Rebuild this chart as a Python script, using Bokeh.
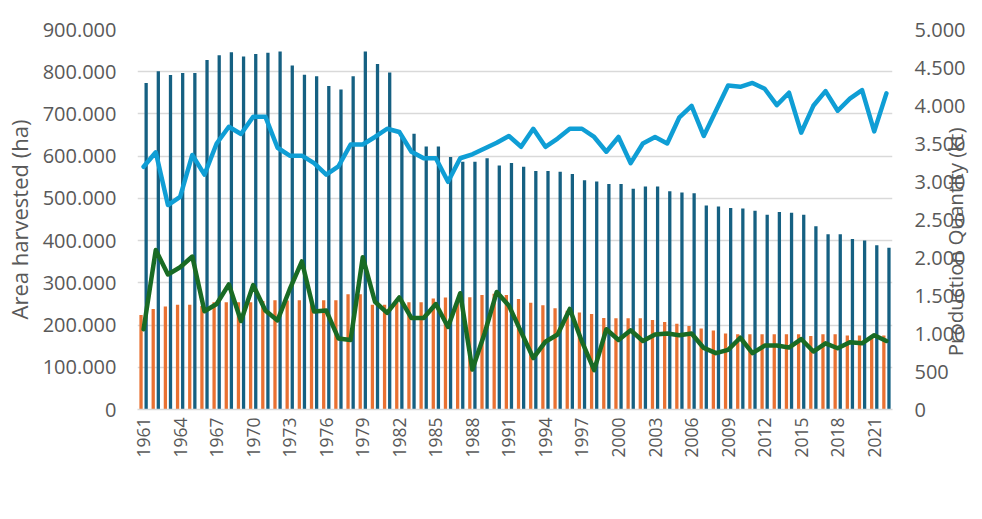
import math
from bokeh.plotting import figure
from bokeh.models import (ColumnDataSource, Range1d, LinearAxis, FixedTicker,
                          Legend, LegendItem)
from bokeh.transform import dodge
from bokeh.embed import file_html
from bokeh.resources import INLINE

years = list(range(1961, 2023))

# Area harvested (thousand ha)
portugal_area_k = [224, 238, 244, 248, 248, 245, 254, 254, 254, 254,
                   257, 259, 258, 259, 257, 259, 259, 273, 273, 248,
                   248, 254, 254, 254, 263, 265, 261, 266, 271, 274,
                   271, 262, 253, 247, 240, 234, 230, 226, 217, 216,
                   216, 216, 212, 207, 203, 198, 192, 187, 180, 178,
                   178, 178, 178, 178, 178, 174, 178, 178, 175, 175,
                   176, 175]
turkiye_area_k = [773, 801, 792, 797, 797, 828, 839, 846, 836, 842,
                  845, 848, 815, 793, 789, 766, 758, 789, 848, 818,
                  798, 645, 653, 623, 623, 598, 587, 587, 595, 578,
                  584, 575, 565, 565, 563, 558, 543, 540, 534, 534,
                  523, 528, 528, 517, 514, 512, 483, 481, 477, 476,
                  471, 461, 468, 466, 461, 434, 415, 415, 404, 400,
                  389, 383]
# Production quantity (kt)
portugal_prod = [1056, 2099, 1776, 1871, 2013, 1293, 1388, 1647, 1164, 1638,
                 1302, 1172, 1582, 1948, 1289, 1302, 935, 914, 2004, 1418,
                 1272, 1474, 1203, 1203, 1388, 1086, 1530, 526, 1000, 1547,
                 1366, 1022, 677, 892, 987, 1323, 892, 517, 1056, 914,
                 1043, 901, 987, 1000, 978, 1000, 810, 741, 784, 944,
                 741, 841, 841, 815, 927, 763, 871, 806, 884, 871,
                 978, 901]
turkiye_prod = [3194, 3384, 2690, 2797, 3349, 3091, 3500, 3720, 3625, 3853,
                3853, 3444, 3340, 3340, 3241, 3091, 3198, 3487, 3487, 3586,
                3694, 3651, 3392, 3306, 3306, 2996, 3306, 3358, 3435, 3509,
                3599, 3457, 3694, 3457, 3565, 3694, 3694, 3586, 3392, 3586,
                3241, 3500, 3586, 3500, 3845, 3996, 3600, 3931, 4263, 4246,
                4297, 4220, 4004, 4168, 3642, 3996, 4190, 3931, 4091, 4203,
                3659, 4159]

x_tick_years = list(range(1961, 2022, 3))
left_ticks = list(range(0, 901, 100))
right_ticks = list(range(0, 5001, 500))

C_PT_BAR = "#E97132"
C_TR_BAR = "#156082"
C_PT_LINE = "#196B24"
C_TR_LINE = "#0F9ED5"
TXT = "#595959"
GRID = "#D9D9D9"
FONT = "Open Sans"

src = ColumnDataSource(dict(year=years, pt_area=portugal_area_k, tr_area=turkiye_area_k,
                            pt_prod=portugal_prod, tr_prod=turkiye_prod))

p = figure(frame_width=755, frame_height=380, output_backend="svg", toolbar_location=None,
           x_range=Range1d(1960.5, 2022.5), y_range=Range1d(0, 900),
           min_border_left=128, min_border_right=83, min_border_top=29,
           min_border_bottom=60)
p.styles = {"outline": "1px solid #D9D9D9"}
p.outline_line_color = None
p.extra_y_ranges = {"prod": Range1d(0, 5000)}

r_pt_bar = p.vbar(x=dodge("year", -0.21), top="pt_area", width=0.27, source=src,
                  fill_color=C_PT_BAR, line_color=None)
r_tr_bar = p.vbar(x=dodge("year", 0.21), top="tr_area", width=0.27, source=src,
                  fill_color=C_TR_BAR, line_color=None)
r_pt_line = p.line("year", "pt_prod", source=src, y_range_name="prod",
                   line_color=C_PT_LINE, line_width=4.5, line_join="round", line_cap="round")
r_tr_line = p.line("year", "tr_prod", source=src, y_range_name="prod",
                   line_color=C_TR_LINE, line_width=4.5, line_join="round", line_cap="round")

# x axis
xa = p.xaxis[0]
xa.ticker = FixedTicker(ticks=x_tick_years)
xa.major_label_orientation = math.pi / 2
xa.major_label_text_font = FONT
xa.major_label_text_font_size = "17.5px"
xa.major_label_text_color = TXT
xa.major_label_standoff = 8
xa.major_tick_line_color = None
xa.major_tick_out = 0
xa.major_tick_in = 0
xa.minor_tick_line_color = None
xa.axis_line_color = GRID
xa.axis_line_width = 1.5

# left axis
ya = p.yaxis[0]
ya.ticker = FixedTicker(ticks=left_ticks)
ya.major_label_overrides = {v: (f"{v}.000" if v else "0") for v in left_ticks}
ya.axis_label = "Area harvested (ha)"
ya.axis_label_text_font = FONT
ya.axis_label_text_font_size = "22px"
ya.axis_label_text_font_style = "normal"
ya.axis_label_text_color = TXT
ya.axis_label_standoff = 6
ya.major_label_text_font = FONT
ya.major_label_text_font_size = "20px"
ya.major_label_text_color = TXT
ya.major_label_standoff = 21
ya.major_tick_line_color = None
ya.major_tick_out = 0
ya.major_tick_in = 0
ya.minor_tick_line_color = None
ya.axis_line_color = None

# right axis
ra = LinearAxis(y_range_name="prod", ticker=FixedTicker(ticks=right_ticks))
ra.major_label_overrides = {v: f"{v:,}".replace(",", ".") for v in right_ticks}
right_title = "Production Quantity (kt)"
ra.axis_label_orientation = math.pi / 2
if "axis_label_align" in ra.properties():
    ra.axis_label_align = "start"
    right_title = "\u00a0" * 10 + right_title
ra.axis_label = right_title
ra.axis_label_text_font = FONT
ra.axis_label_text_font_size = "20.5px"
ra.axis_label_text_font_style = "normal"
ra.axis_label_text_color = TXT
ra.axis_label_standoff = -13
ra.major_label_text_font = FONT
ra.major_label_text_font_size = "20px"
ra.major_label_text_color = TXT
ra.major_label_standoff = 22
ra.major_tick_line_color = None
ra.major_tick_out = 0
ra.major_tick_in = 0
ra.minor_tick_line_color = None
ra.axis_line_color = None
p.add_layout(ra, "right")

p.xgrid.grid_line_color = None
p.ygrid.grid_line_color = GRID
p.ygrid.grid_line_width = 1.5
p.ygrid.ticker = FixedTicker(ticks=left_ticks)

legend = Legend(items=[
    LegendItem(label="Portugal", renderers=[r_pt_bar]),
    LegendItem(label="Turkiye", renderers=[r_tr_bar]),
    LegendItem(label="Portugal", renderers=[r_pt_line]),
    LegendItem(label="Turkiye", renderers=[r_tr_line]),
], orientation="horizontal", location=(47, 0))
legend.label_text_font = FONT
legend.label_text_font_size = "21.5px"
legend.label_text_color = TXT
legend.glyph_width = 52
legend.glyph_height = 13
legend.label_standoff = 5
legend.spacing = 26
legend.padding = 0
legend.margin = 0
legend.border_line_color = None
legend.background_fill_alpha = 0
p.add_layout(legend, "below")

open("out.html", "w").write(file_html(p, INLINE))
